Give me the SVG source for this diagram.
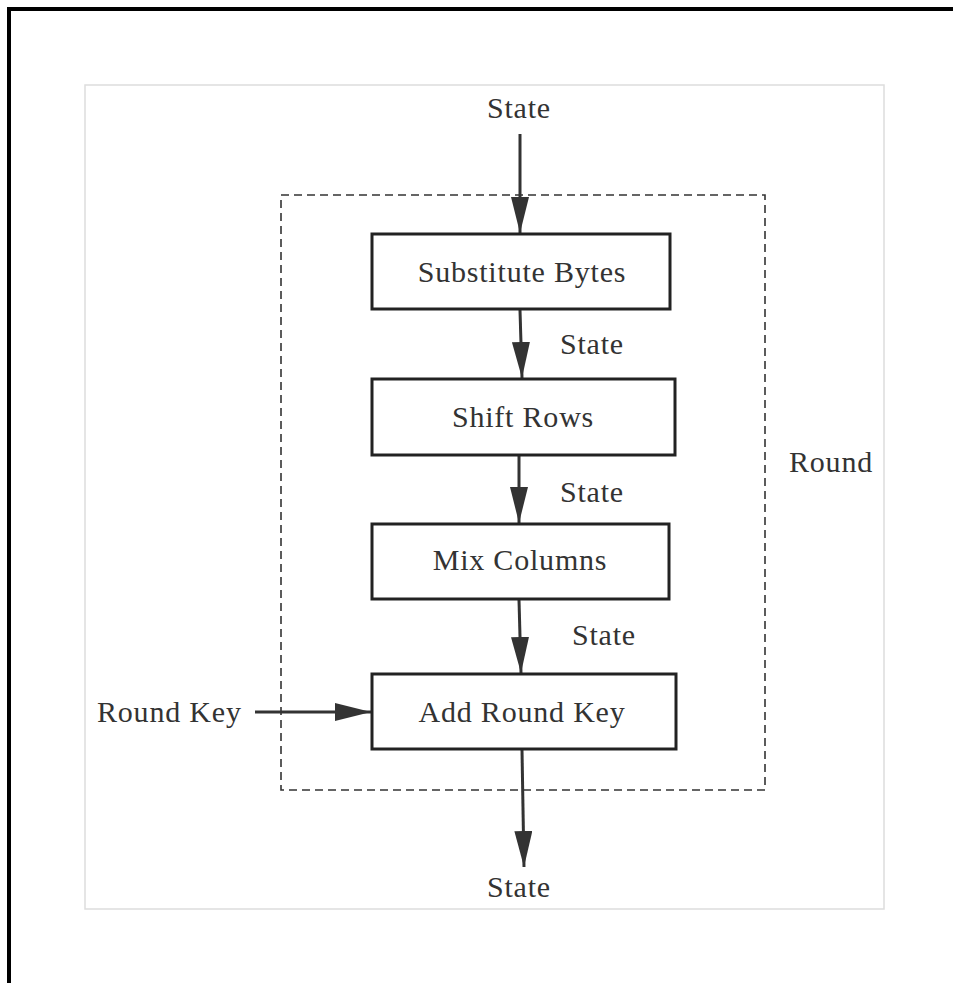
<svg xmlns="http://www.w3.org/2000/svg" width="953" height="983" viewBox="0 0 953 983">
  <style>
    .lbl { font-family: "Liberation Serif", "Times New Roman", serif; font-size: 30px; letter-spacing: 0.8px; fill: #333; }
    .mid { text-anchor: middle; }
    .box { fill: #fff; stroke: #222; stroke-width: 3; }
    .edge { stroke: #333; stroke-width: 3; fill: none; }
  </style>
  <defs>
    <marker id="arrow" viewBox="0 0 36 18" refX="36" refY="9" markerWidth="36" markerHeight="18" markerUnits="userSpaceOnUse" orient="auto">
      <path d="M0,0 L36,9 L0,18 Z" fill="#333"/>
    </marker>
  </defs>

  <rect x="0" y="0" width="953" height="983" fill="#fff"/>
  <!-- page frame -->
  <rect x="9" y="9" width="960" height="990" fill="none" stroke="#000" stroke-width="4"/>
  <!-- canvas border -->
  <rect x="85" y="85" width="799" height="824" fill="#fff" stroke="#ddd" stroke-width="1.5"/>
  <!-- round boundary -->
  <rect x="281" y="195" width="484" height="595" fill="none" stroke="#333" stroke-width="1.6" stroke-dasharray="8,5"/>
  <text class="lbl" x="789" y="472">Round</text>

  <g id="connectors">
    <line class="edge" x1="520" y1="134" x2="520" y2="233" marker-end="url(#arrow)"/>
    <line class="edge" x1="520" y1="310" x2="522" y2="378" marker-end="url(#arrow)"/>
    <line class="edge" x1="519" y1="450" x2="519" y2="523" marker-end="url(#arrow)"/>
    <line class="edge" x1="519" y1="600" x2="521" y2="673" marker-end="url(#arrow)"/>
    <line class="edge" x1="255" y1="712" x2="371" y2="712" marker-end="url(#arrow)"/>
    <line class="edge" x1="522" y1="750" x2="524" y2="867" marker-end="url(#arrow)"/>
    <text class="lbl" x="560" y="354">State</text>
    <text class="lbl" x="560" y="502">State</text>
    <text class="lbl" x="572" y="645">State</text>
  </g>

  <g id="state-in">
    <text class="lbl mid" x="519" y="118">State</text>
  </g>
  <g id="sub-bytes">
    <rect class="box" x="372" y="234" width="298" height="75"/>
    <text class="lbl mid" x="522" y="282">Substitute Bytes</text>
  </g>
  <g id="shift-rows">
    <rect class="box" x="372" y="379" width="303" height="76"/>
    <text class="lbl mid" x="523" y="427">Shift Rows</text>
  </g>
  <g id="mix-columns">
    <rect class="box" x="372" y="524" width="297" height="75"/>
    <text class="lbl mid" x="520" y="570">Mix Columns</text>
  </g>
  <g id="add-round-key">
    <rect class="box" x="372" y="674" width="304" height="75"/>
    <text class="lbl mid" x="522" y="722">Add Round Key</text>
  </g>
  <g id="round-key">
    <text class="lbl" x="97" y="722">Round Key</text>
  </g>
  <g id="state-out">
    <text class="lbl mid" x="519" y="897">State</text>
  </g>
</svg>
